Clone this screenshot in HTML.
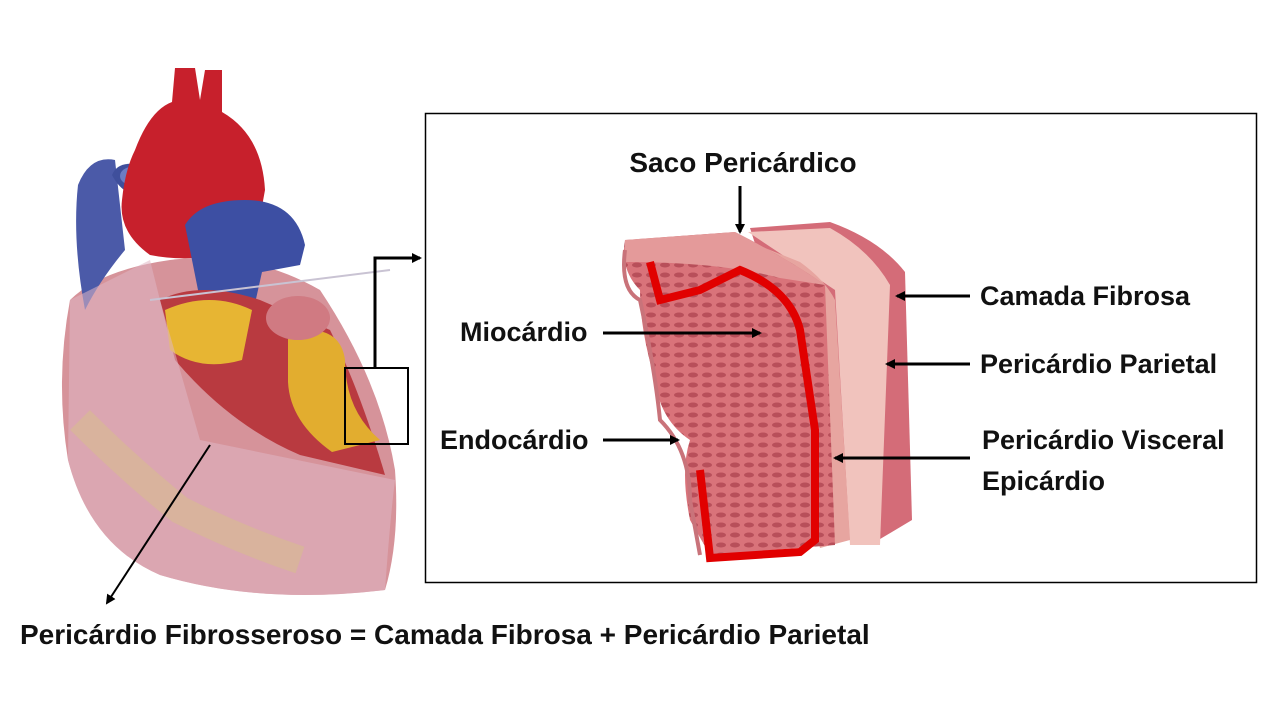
<!DOCTYPE html>
<html><head><meta charset="utf-8"><style>
html,body{margin:0;padding:0;background:#fff;}
body{width:1280px;height:720px;overflow:hidden;}
svg{display:block}
text{font-family:"Liberation Sans Narrow","Liberation Sans",sans-serif;font-weight:bold;fill:#111;}
</style></head><body>
<svg width="1280" height="720" viewBox="0 0 1280 720" xmlns="http://www.w3.org/2000/svg">
<defs>
<marker id="ah" markerWidth="10" markerHeight="10" refX="8" refY="5" orient="auto" markerUnits="userSpaceOnUse"><path d="M0,0 L10,5 L0,10 z" fill="#000"/></marker>
<pattern id="musc" width="14" height="10" patternUnits="userSpaceOnUse"><rect width="14" height="10" fill="#d9737a"/><ellipse cx="7" cy="5" rx="5" ry="2.5" fill="#b84f5a"/></pattern>
</defs>
<!-- Heart -->
<g>
<path d="M70,300 Q55,380 68,460 Q90,545 160,575 Q260,605 385,590 Q400,540 395,470 Q380,380 320,290 Q250,250 170,260 Q100,270 70,300z" fill="#d6939a"/>
<path d="M78,185 Q90,155 115,160 L125,250 Q100,280 85,310 Q72,240 78,185z" fill="#4b5aa8"/>
<path d="M112,175 Q118,160 140,165 L150,195 Q125,200 112,175z" fill="#3f4f9c"/>
<ellipse cx="132" cy="176" rx="12" ry="9" fill="#6c7cc4"/>
<path d="M135,150 Q150,110 172,102 L175,68 L195,68 L200,100 L205,70 L222,70 L222,112 Q262,135 265,190 L255,245 Q200,265 150,255 Q118,232 122,200 Q125,170 135,150z" fill="#c7202c"/>
<path d="M185,225 Q200,200 245,200 Q295,200 305,245 L300,265 L262,272 L248,335 L200,300 Z" fill="#3d4fa3"/>
<path d="M160,300 Q200,280 260,300 L330,330 Q360,390 385,475 L300,455 Q230,425 175,360z" fill="#b93a40"/>
<path d="M165,310 Q210,290 252,310 L242,360 Q200,372 170,350z" fill="#e7b533"/>
<path d="M288,332 Q340,322 345,360 Q345,410 380,440 L332,452 Q290,422 288,382z" fill="#e2ad2f"/>
<ellipse cx="298" cy="318" rx="32" ry="22" fill="#d07a82"/>
<path d="M70,300 L150,260 L160,300 L200,440 L395,480 Q390,520 385,590 Q260,605 160,575 Q90,545 68,460z" fill="#e0b6c4" opacity="0.55"/>
<path d="M80,420 Q130,470 180,510 Q240,540 300,560" stroke="#d8bf8a" stroke-width="28" fill="none" opacity="0.5"/>
<path d="M150,300 L390,270" stroke="#c9c3d3" stroke-width="2" fill="none"/>
</g>
<rect x="345" y="368" width="63" height="76" fill="none" stroke="#000" stroke-width="2"/>
<polyline points="375,368 375,258 420,258" fill="none" stroke="#000" stroke-width="3" marker-end="url(#ah)"/>
<line x1="210" y1="445" x2="107" y2="603" stroke="#000" stroke-width="2" marker-end="url(#ah)"/>
<!-- Box -->
<rect x="425.5" y="113.5" width="831" height="469" fill="#fff" stroke="#000" stroke-width="1.5"/>
<!-- Tissue block -->
<path d="M750,228 L830,222 Q880,240 905,272 L912,520 L870,545 L850,540 Z" fill="#d46c78"/>
<path d="M748,232 L830,228 Q870,250 890,285 L880,545 L850,545 L835,290 Z" fill="#f1c3bd"/>
<path d="M735,236 L800,262 Q825,280 835,300 L850,540 L820,548 Z" fill="#e7a5a0"/>
<path d="M625,240 L735,232 Q790,260 825,285 L835,545 L710,555 L690,520 Q680,470 690,440 Q660,420 655,380 Q640,330 640,290 Q620,270 625,240z" fill="url(#musc)"/>
<path d="M625,240 L735,232 Q790,260 825,285 L780,278 Q720,262 625,262z" fill="#e49a9a"/>
<path d="M650,262 L660,300 L700,290 L740,270 Q790,290 800,330 L815,430 L815,540 L800,552 L710,558 L700,470" fill="none" stroke="#e10000" stroke-width="8"/>
<path d="M625,250 Q620,290 640,300 Q655,370 660,420 Q690,450 690,500 L700,555" fill="none" stroke="#c9737a" stroke-width="4"/>
<!-- Labels -->
<text x="743" y="172" font-size="28" text-anchor="middle">Saco Pericárdico</text>
<line x1="740" y1="186" x2="740" y2="232" stroke="#000" stroke-width="3" marker-end="url(#ah)"/>
<text x="980" y="305" font-size="27">Camada Fibrosa</text>
<line x1="970" y1="296" x2="897" y2="296" stroke="#000" stroke-width="3" marker-end="url(#ah)"/>
<text x="980" y="373" font-size="27">Pericárdio Parietal</text>
<line x1="970" y1="364" x2="887" y2="364" stroke="#000" stroke-width="3" marker-end="url(#ah)"/>
<text x="982" y="449" font-size="27">Pericárdio Visceral</text>
<text x="982" y="490" font-size="27">Epicárdio</text>
<line x1="970" y1="458" x2="835" y2="458" stroke="#000" stroke-width="3" marker-end="url(#ah)"/>
<text x="460" y="341" font-size="27">Miocárdio</text>
<line x1="603" y1="333" x2="760" y2="333" stroke="#000" stroke-width="3" marker-end="url(#ah)"/>
<text x="440" y="449" font-size="27">Endocárdio</text>
<line x1="603" y1="440" x2="678" y2="440" stroke="#000" stroke-width="3" marker-end="url(#ah)"/>
<text x="20" y="644" font-size="28">Pericárdio Fibrosseroso = Camada Fibrosa + Pericárdio Parietal</text>
</svg>
</body></html>
